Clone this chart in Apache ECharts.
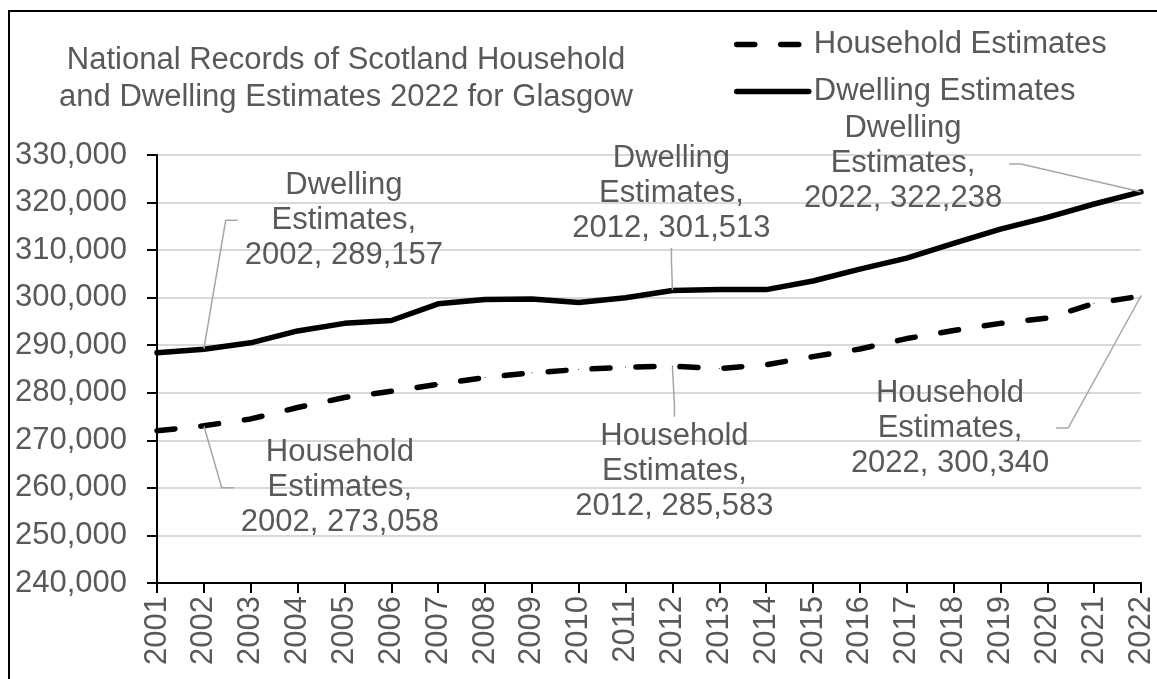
<!DOCTYPE html>
<html>
<head>
<meta charset="utf-8">
<title>Household and Dwelling Estimates, Glasgow</title>
<script src="https://cdn.jsdelivr.net/npm/echarts@6/dist/echarts.min.js"></script>
<style>
  html, body { margin: 0; padding: 0; background: #ffffff; }
  #chart { width: 1157px; height: 679px; }
</style>
</head>
<body>
<div id="chart"></div>
<script>
// Year categories on the x axis
const years = ['2001', '2002', '2003', '2004', '2005', '2006', '2007', '2008', '2009', '2010', '2011',
               '2012', '2013', '2014', '2015', '2016', '2017', '2018', '2019', '2020', '2021', '2022'];

// Household estimates per year
const householdEstimates = [272000, 273058, 274500, 276900, 279000, 280300, 281800, 283200, 284200, 284900, 285400,
                            285583, 285100, 285900, 287600, 289200, 291400, 293100, 294600, 295700, 298800, 300340];

// Dwelling estimates per year
const dwellingEstimates = [288400, 289157, 290500, 293000, 294600, 295200, 298700, 299600, 299700, 299000, 300000,
                           301513, 301700, 301700, 303500, 306000, 308300, 311400, 314400, 316900, 319700, 322238];

// Value axis range and tick step
const yMin = 240000;
const yMax = 330000;
const yStep = 10000;

// Years whose points carry a value label
const labelledYears = ['2002', '2012', '2022'];

const FONT = "'Liberation Sans', Arial, Helvetica, sans-serif";
const TEXT = '#595959';

// Offset (px) of each label's centre from its point
const labelOffsets = {
  'Household Estimates': { '2002': [136, 62], '2012': [2, 105], '2022': [-191, 132] },
  'Dwelling Estimates':  { '2002': [140, -129], '2012': [-1, -97], '2022': [-238, -28] }
};

const fmt = v => Number(v).toLocaleString('en-GB');

function makeSeries(name, values, lineStyle) {
  return {
    name: name,
    type: 'line',
    data: values.map((v, i) => ({
      value: v,
      label: { show: labelledYears.indexOf(years[i]) >= 0 }
    })),
    symbol: 'circle',
    symbolSize: 1,
    showSymbol: true,
    showAllSymbol: true,
    itemStyle: { color: '#000000' },
    lineStyle: lineStyle,
    z: 3,
    label: {
      show: false,
      position: 'inside',
      formatter: p => p.seriesName.replace(' ', '\n') + ',\n' + p.name + ', ' + fmt(p.value),
      fontFamily: FONT,
      fontSize: 31,
      lineHeight: 35,
      color: TEXT,
      align: 'center',
      padding: [2, 7]
    },
    labelLine: {
      show: true,
      length2: 12,
      lineStyle: { color: '#a6a6a6', width: 1.5 }
    },
    labelLayout: params => {
      const off = labelOffsets[name][years[params.dataIndex]];
      return off ? { dx: off[0], dy: off[1] } : {};
    },
    emphasis: { disabled: true }
  };
}

const chart = echarts.init(document.getElementById('chart'), null, { renderer: 'canvas' });

chart.setOption({
  animation: false,
  backgroundColor: '#ffffff',
  textStyle: { fontFamily: FONT },
  graphic: [
    {
      // outer frame of the chart area
      type: 'rect',
      shape: { x: 9, y: 11, width: 1300, height: 800 },
      style: { fill: 'none', stroke: '#000000', lineWidth: 2 },
      silent: true
    },
    {
      type: 'text',
      x: 346,
      y: 42,
      style: {
        text: 'National Records of Scotland Household\nand Dwelling Estimates 2022 for Glasgow',
        font: '31px ' + FONT,
        fill: TEXT,
        align: 'center',
        verticalAlign: 'top',
        lineHeight: 37
      },
      silent: true
    }
  ],
  legend: {
    orient: 'vertical',
    left: 734,
    top: 29,
    padding: 0,
    itemWidth: 72,
    itemHeight: 14,
    itemGap: 16,
    data: ['Household Estimates', 'Dwelling Estimates'],
    itemStyle: { opacity: 0 },
    lineStyle: { width: 5.5, cap: 'round' },
    textStyle: { fontFamily: FONT, fontSize: 31, lineHeight: 30, color: TEXT },
    selectedMode: false
  },
  grid: { left: 157, right: 16, top: 155, bottom: 96, containLabel: false },
  xAxis: {
    type: 'category',
    data: years,
    boundaryGap: false,
    axisLine: { show: true, lineStyle: { color: '#000000', width: 2 } },
    axisTick: { show: true, length: 10, lineStyle: { color: '#000000', width: 2 } },
    axisLabel: { rotate: 90, margin: 13, fontFamily: FONT, fontSize: 31, color: TEXT, interval: 0 },
    splitLine: { show: false }
  },
  yAxis: {
    type: 'value',
    min: yMin,
    max: yMax,
    interval: yStep,
    axisLine: { show: true, lineStyle: { color: '#000000', width: 2 } },
    axisTick: { show: true, length: 10, lineStyle: { color: '#000000', width: 2 } },
    axisLabel: { margin: 30, fontFamily: FONT, fontSize: 31, color: TEXT, formatter: v => fmt(v) },
    splitLine: { show: true, lineStyle: { color: '#d9d9d9', width: 2 } }
  },
  series: [
    makeSeries('Household Estimates', householdEstimates,
      { color: '#000000', width: 5.5, type: [18, 26], cap: 'round', join: 'round' }),
    makeSeries('Dwelling Estimates', dwellingEstimates,
      { color: '#000000', width: 5.5, type: 'solid', cap: 'round', join: 'round' })
  ]
});
</script>
</body>
</html>
